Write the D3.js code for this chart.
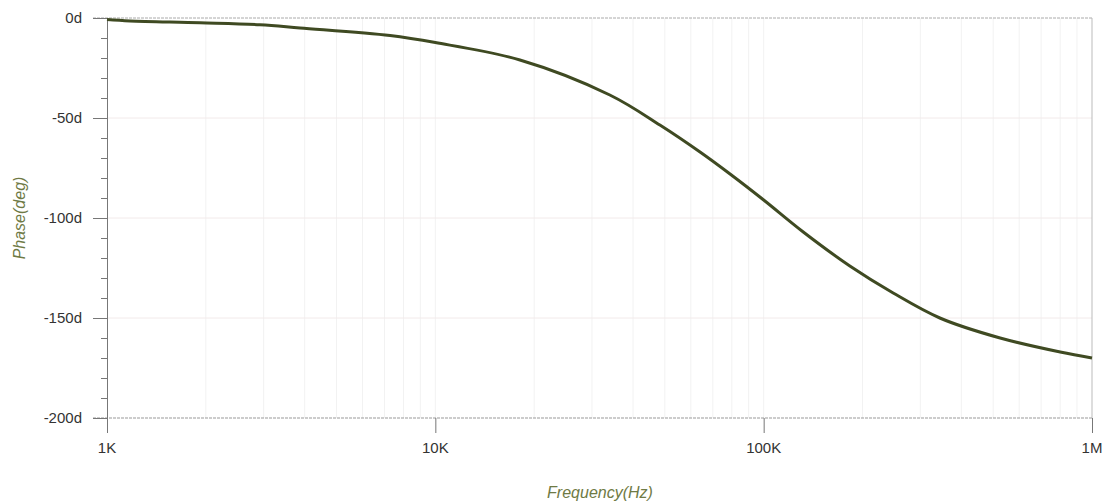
<!DOCTYPE html>
<html>
<head>
<meta charset="utf-8">
<script src="https://cdn.jsdelivr.net/npm/d3@7"></script>
<style>
body { margin: 0; background: #fff; }
svg { display: block; font-family: "Liberation Sans", Arial, sans-serif; }
</style>
</head>
<body>
<div id="chart"></div>
<script>
// frequency (Hz) and phase (deg)
var freq  = [1000, 1175, 1920, 2920, 3870, 7280, 10000, 18100, 34000, 48300, 64000, 79000, 100000, 132000, 183000, 248000, 344000, 525000, 800000, 1000000];
var phase = [-0.8, -1.5, -2.4, -3.4, -5, -8.8, -12.3, -21, -38.5, -53.5, -67, -78, -91, -107, -124, -137.5, -150, -160, -167, -170];

var xTicks = [1e3, 1e4, 1e5, 1e6];
var xTickLabels = ["1K", "10K", "100K", "1M"];
var yTicks = [0, -50, -100, -150, -200];
var yTickLabels = ["0d", "-50d", "-100d", "-150d", "-200d"];

var W = 1110, H = 503;
var pLeft = 107, pRight = 1092, pTop = 18, pBottom = 418;

var svg = d3.select("#chart").append("svg")
    .attr("width", W)
    .attr("height", H);

var x = d3.scaleLog().domain([1e3, 1e6]).range([pLeft, pRight]);
var y = d3.scaleLinear().domain([-200, 0]).range([pBottom, pTop]);

// minor decade gridlines
var minorX = [];
for (var dec = 1e3; dec < 1e6; dec *= 10) {
    for (var m = 1; m < 10; m++) minorX.push(dec * m);
}
svg.append("g").selectAll("line")
    .data(minorX.filter(function (d) { return d > 1e3; }))
    .enter().append("line")
    .attr("x1", function (d) { return x(d); })
    .attr("x2", function (d) { return x(d); })
    .attr("y1", pTop).attr("y2", pBottom)
    .style("stroke", "#f2f2f2")
    .style("stroke-width", 1);

// horizontal gridlines
svg.append("g").selectAll("line")
    .data([-50, -100, -150])
    .enter().append("line")
    .attr("x1", pLeft).attr("x2", pRight)
    .attr("y1", function (d) { return y(d); })
    .attr("y2", function (d) { return y(d); })
    .style("stroke", "#f2eaea")
    .style("stroke-width", 1);

// frame: top, bottom, right
svg.append("line").attr("x1", 93).attr("x2", pRight).attr("y1", y(0)).attr("y2", y(0))
    .style("stroke", "#aaa").style("stroke-dasharray", "3,1");
svg.append("line").attr("x1", 93).attr("x2", pRight).attr("y1", y(-200)).attr("y2", y(-200))
    .style("stroke", "#999").style("stroke-dasharray", "3,1");
svg.append("line").attr("x1", pRight).attr("x2", pRight).attr("y1", pTop).attr("y2", pBottom)
    .style("stroke", "#bbb");

// y axis
var yAxis = d3.axisLeft(y)
    .tickValues(d3.range(-200, 1, 10))
    .tickSize(6)
    .tickFormat("");
var gy = svg.append("g").attr("transform", "translate(" + pLeft + ",0)").call(yAxis);
gy.select(".domain").style("stroke", "#777");
gy.selectAll(".tick line").style("stroke", "#777")
    .attr("x2", function (d) { return d % 50 === 0 ? -14 : -6; });

svg.append("g").selectAll("text")
    .data(yTicks)
    .enter().append("text")
    .attr("x", 82)
    .attr("y", function (d) { return y(d); })
    .attr("dy", "0.35em")
    .attr("text-anchor", "end")
    .style("font-size", "15px")
    .style("fill", "#333")
    .text(function (d, i) { return yTickLabels[i]; });

// x axis ticks
var xAxis = d3.axisBottom(x).tickValues(xTicks).tickSize(15).tickFormat("");
var gx = svg.append("g").attr("transform", "translate(0," + pBottom + ")").call(xAxis);
gx.select(".domain").remove();
gx.selectAll(".tick line").style("stroke", "#777");

svg.append("g").selectAll("text")
    .data(xTicks)
    .enter().append("text")
    .attr("x", function (d) { return x(d); })
    .attr("y", 448)
    .attr("dy", "0.35em")
    .attr("text-anchor", "middle")
    .style("font-size", "15px")
    .style("fill", "#333")
    .text(function (d, i) { return xTickLabels[i]; });

// phase curve
var line = d3.line()
    .x(function (d, i) { return x(freq[i]); })
    .y(function (d) { return y(d); })
    .curve(d3.curveCatmullRom);

svg.append("path")
    .datum(phase)
    .attr("d", line)
    .style("fill", "none")
    .style("stroke", "#3f4a22")
    .style("stroke-width", 3);

// axis titles
svg.append("text")
    .attr("x", 600).attr("y", 492)
    .attr("dy", "0.35em")
    .attr("text-anchor", "middle")
    .style("font-size", "16px")
    .style("font-style", "italic")
    .style("fill", "#6f7a45")
    .text("Frequency(Hz)");

svg.append("text")
    .attr("transform", "translate(19,218) rotate(-90)")
    .attr("dy", "0.35em")
    .attr("text-anchor", "middle")
    .style("font-size", "16px")
    .style("font-style", "italic")
    .style("fill", "#6f7a45")
    .text("Phase(deg)");
</script>
</body>
</html>
